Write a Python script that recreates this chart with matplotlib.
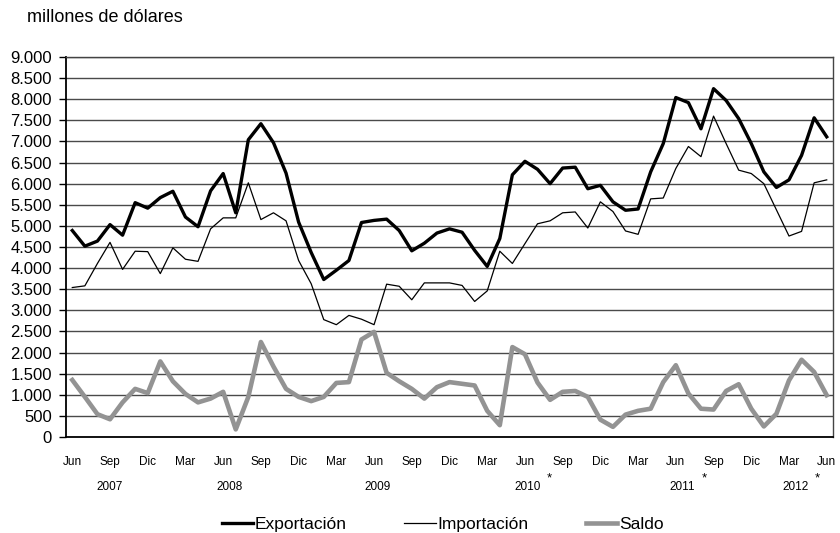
import numpy as np
import matplotlib
matplotlib.use("Agg")
import matplotlib.pyplot as plt
from matplotlib.ticker import FuncFormatter

plt.rcParams['font.family'] = ['Liberation Sans', 'DejaVu Sans']

# monthly data, Jun 2007 .. Jun 2012 (millones de dólares)
exportacion = [4890, 4520, 4640, 5030, 4780, 5550, 5420, 5670, 5820, 5210, 4980,
               5830, 6240, 5310, 7040, 7420, 6970, 6250, 5090, 4370, 3730, 3950,
               4180, 5080, 5130, 5160, 4890, 4410, 4590, 4830, 4930, 4850, 4420,
               4040, 4700, 6210, 6530, 6340, 6000, 6370, 6390, 5880, 5960, 5570,
               5370, 5400, 6280, 6950, 8040, 7920, 7300, 8250, 7970, 7540, 6950,
               6280, 5910, 6090, 6670, 7560, 7110]
importacion = [3540, 3580, 4110, 4610, 3970, 4400, 4390, 3870, 4480, 4210, 4160,
               4930, 5190, 5190, 6020, 5150, 5310, 5120, 4180, 3630, 2780, 2660,
               2880, 2790, 2660, 3620, 3570, 3250, 3650, 3650, 3650, 3590, 3210,
               3460, 4400, 4110, 4580, 5050, 5120, 5310, 5330, 4950, 5570, 5340,
               4880, 4800, 5640, 5660, 6360, 6880, 6640, 7600, 6950, 6320, 6240,
               6000, 5380, 4760, 4870, 6020, 6090]
saldo = [1350, 950, 540, 420, 820, 1140, 1040, 1790, 1320, 1020, 820,
         910, 1070, 180, 950, 2250, 1670, 1140, 950, 850, 950, 1280,
         1300, 2310, 2490, 1520, 1320, 1140, 910, 1180, 1300, 1260, 1220,
         620, 280, 2130, 1960, 1290, 880, 1070, 1090, 950, 410, 240,
         530, 620, 670, 1300, 1700, 1030, 670, 650, 1090, 1250, 670,
         250, 550, 1340, 1830, 1540, 990]

meses = ['Jun', 'Sep', 'Dic', 'Mar'] * 5 + ['Jun']
anios = ['2007', '2008', '2009', '2010', '2011', '2012']
anios_pos = [2.95, 12.5, 24.3, 36.2, 48.5, 57.5]
anios_asterisco = [False, False, False, True, True, True]

x = np.arange(len(exportacion))

fig = plt.figure(figsize=(8.4, 5.33), dpi=100)
ax = fig.add_axes([66 / 840, 1 - 437 / 533, (833 - 66) / 840, 380 / 533])

ax.plot(x, exportacion, color='black', lw=2.4, label='Exportación', zorder=3)
ax.plot(x, importacion, color='black', lw=0.9, label='Importación', zorder=3)
ax.plot(x, saldo, color='#939393', lw=3.3, label='Saldo', zorder=3)

ax.set_xlim(-0.5, 60.5)
ax.set_ylim(0, 9000)
ax.set_yticks(np.arange(0, 9001, 500))
ax.yaxis.set_major_formatter(FuncFormatter(lambda v, p: f"{int(v):,}".replace(',', '.')))
ax.yaxis.grid(True, color='#4a4a4a', lw=1.0)
ax.set_axisbelow(True)
ax.tick_params(axis='y', length=5, width=1, pad=5, labelsize=12, direction='out')

ax.set_xticks(np.arange(0, 61, 3))
ax.set_xticklabels(meses)
ax.tick_params(axis='x', length=0, pad=14, labelsize=8.5)

for sp in ['left', 'bottom']:
    ax.spines[sp].set_color('black')
    ax.spines[sp].set_linewidth(1.3)
for sp in ['right', 'top']:
    ax.spines[sp].set_color('#444444')
    ax.spines[sp].set_linewidth(1.0)

tr = ax.get_xaxis_transform()
for pos, anio, ast in zip(anios_pos, anios, anios_asterisco):
    ax.text(pos, -0.132, anio, transform=tr, ha='center', va='center', fontsize=8.5)
    if ast:
        ax.text(pos + 1.75, -0.11, '*', transform=tr, ha='center', va='center', fontsize=9.5)

fig.text(27 / 840, 1 - 18 / 533, 'millones de dólares', ha='left', va='center', fontsize=13)

fig.legend(loc='center', bbox_to_anchor=(0.527, 1 - 524 / 533), ncol=3, frameon=False,
           fontsize=12.5, handlelength=1.8, handletextpad=0.1, columnspacing=3.3)

plt.savefig('out.png', dpi=100)
